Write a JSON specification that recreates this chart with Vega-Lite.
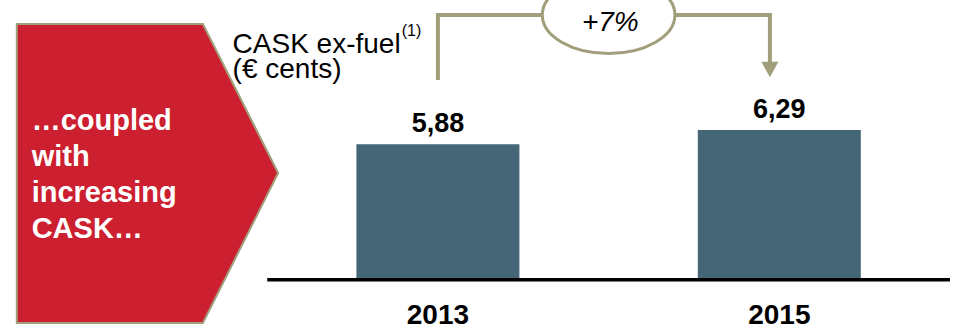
{
  "$schema": "https://vega.github.io/schema/vega-lite/v6.json",
  "width": 955,
  "height": 334,
  "autosize": "none",
  "padding": 0,
  "background": "white",
  "config": {
    "view": {"stroke": null},
    "font": "Arial, Liberation Sans, sans-serif",
    "locale": {"number": {"decimal": ",", "thousands": ".", "grouping": [3], "currency": ["", " €"]}}
  },
  "datasets": {
    "cask": [
      {"year": 2013, "cask": 5.88},
      {"year": 2015, "cask": 6.29}
    ],
    "pentagon": [
      {"year": 2010.533, "top": 9.331, "bottom": 0.759},
      {"year": 2011.623, "top": 9.331, "bottom": 0.759},
      {"year": 2012.064, "top": 5.059, "bottom": 5.059}
    ],
    "bracket": [
      {"step": 1, "year": 2013.0, "cask": 7.725},
      {"step": 2, "year": 2013.0, "cask": 9.589},
      {"step": 3, "year": 2014.945, "cask": 9.589},
      {"step": 4, "year": 2014.945, "cask": 8.18}
    ]
  },
  "layer": [
    {
      "data": {"name": "pentagon"},
      "mark": {"type": "area", "fill": "#CC1F2F", "stroke": "#A19E7B", "strokeWidth": 2, "orient": "vertical"},
      "encoding": {
        "x": {"field": "year", "type": "quantitative", "scale": {"domain": [2010.4638, 2016], "nice": false, "zero": false}, "axis": null},
        "y": {"field": "top", "type": "quantitative", "scale": {"domain": [0.443, 10.019], "nice": false, "zero": false}, "axis": null},
        "y2": {"field": "bottom"}
      }
    },
    {
      "data": {"values": [{}]},
      "mark": {"type": "text", "align": "left", "baseline": "alphabetic", "fontSize": 29, "fontWeight": "bold", "fill": "white", "lineHeight": 36},
      "encoding": {
        "x": {"datum": 2010.62, "type": "quantitative"},
        "y": {"datum": 6.292, "type": "quantitative"},
        "text": {"value": ["…coupled", "with", "increasing", "CASK…"]}
      }
    },
    {
      "data": {"values": [{}]},
      "mark": {"type": "text", "align": "left", "baseline": "alphabetic", "fontSize": 28, "fill": "black"},
      "encoding": {
        "x": {"datum": 2011.797, "type": "quantitative"},
        "y": {"datum": 8.491, "type": "quantitative"},
        "text": {"value": "CASK ex-fuel"}
      }
    },
    {
      "data": {"values": [{}]},
      "mark": {"type": "text", "align": "left", "baseline": "alphabetic", "fontSize": 28, "fill": "black"},
      "encoding": {
        "x": {"datum": 2011.797, "type": "quantitative"},
        "y": {"datum": 7.774, "type": "quantitative"},
        "text": {"value": "(€ cents)"}
      }
    },
    {
      "data": {"values": [{}]},
      "mark": {"type": "text", "align": "left", "baseline": "alphabetic", "fontSize": 16, "fill": "black"},
      "encoding": {
        "x": {"datum": 2012.788, "type": "quantitative"},
        "y": {"datum": 8.987, "type": "quantitative"},
        "text": {"value": "(1)"}
      }
    },
    {
      "data": {"name": "bracket"},
      "mark": {"type": "line", "stroke": "#A19E7B", "strokeWidth": 4, "strokeCap": "butt", "strokeJoin": "miter"},
      "encoding": {
        "x": {"field": "year", "type": "quantitative"},
        "y": {"field": "cask", "type": "quantitative"},
        "order": {"field": "step", "type": "quantitative"}
      }
    },
    {
      "data": {"values": [{}]},
      "mark": {"type": "point", "shape": "M-1,-0.9L1,-0.9L0,0.9Z", "size": 289, "filled": true, "fill": "#A19E7B", "strokeWidth": 0, "opacity": 1},
      "encoding": {
        "x": {"datum": 2014.945, "type": "quantitative"},
        "y": {"datum": 8.026, "type": "quantitative"}
      }
    },
    {
      "data": {"values": [{}]},
      "mark": {"type": "point", "shape": "M-1,0C-1,-0.3203,-0.5523,-0.58,0,-0.58C0.5523,-0.58,1,-0.3203,1,0C1,0.3203,0.5523,0.58,0,0.58C-0.5523,0.58,-1,0.3203,-1,0Z", "size": 17600, "filled": true, "fill": "white", "stroke": "#A19E7B", "strokeWidth": 3, "opacity": 1, "fillOpacity": 1},
      "encoding": {
        "x": {"datum": 2014.0, "type": "quantitative"},
        "y": {"datum": 9.589, "type": "quantitative"}
      }
    },
    {
      "data": {"values": [{}]},
      "mark": {"type": "text", "align": "center", "baseline": "alphabetic", "fontSize": 28, "fontStyle": "italic", "fill": "black"},
      "encoding": {
        "x": {"datum": 2014.01, "type": "quantitative"},
        "y": {"datum": 9.144, "type": "quantitative"},
        "text": {"value": "+7%"}
      }
    },
    {
      "data": {"name": "cask"},
      "mark": {"type": "bar", "width": 163, "fill": "#456676"},
      "encoding": {
        "x": {"field": "year", "type": "quantitative"},
        "y": {"field": "cask", "type": "quantitative"},
        "y2": {"datum": 2.0}
      }
    },
    {
      "data": {"values": [{}]},
      "mark": {"type": "rule", "stroke": "black", "strokeWidth": 3.5},
      "encoding": {
        "x": {"datum": 2012.0, "type": "quantitative"},
        "x2": {"datum": 2016.0},
        "y": {"datum": 2.0, "type": "quantitative"}
      }
    },
    {
      "data": {"name": "cask"},
      "mark": {"type": "text", "align": "center", "baseline": "alphabetic", "dy": -12, "fontSize": 27, "fontWeight": "bold", "fill": "black"},
      "encoding": {
        "x": {"field": "year", "type": "quantitative"},
        "y": {"field": "cask", "type": "quantitative"},
        "text": {"field": "cask", "type": "quantitative", "format": ".2f"}
      }
    },
    {
      "data": {"name": "cask"},
      "mark": {"type": "text", "align": "center", "baseline": "alphabetic", "fontSize": 28, "fontWeight": "bold", "fill": "black"},
      "encoding": {
        "x": {"field": "year", "type": "quantitative"},
        "y": {"datum": 0.721, "type": "quantitative"},
        "text": {"field": "year", "type": "nominal"}
      }
    }
  ]
}
